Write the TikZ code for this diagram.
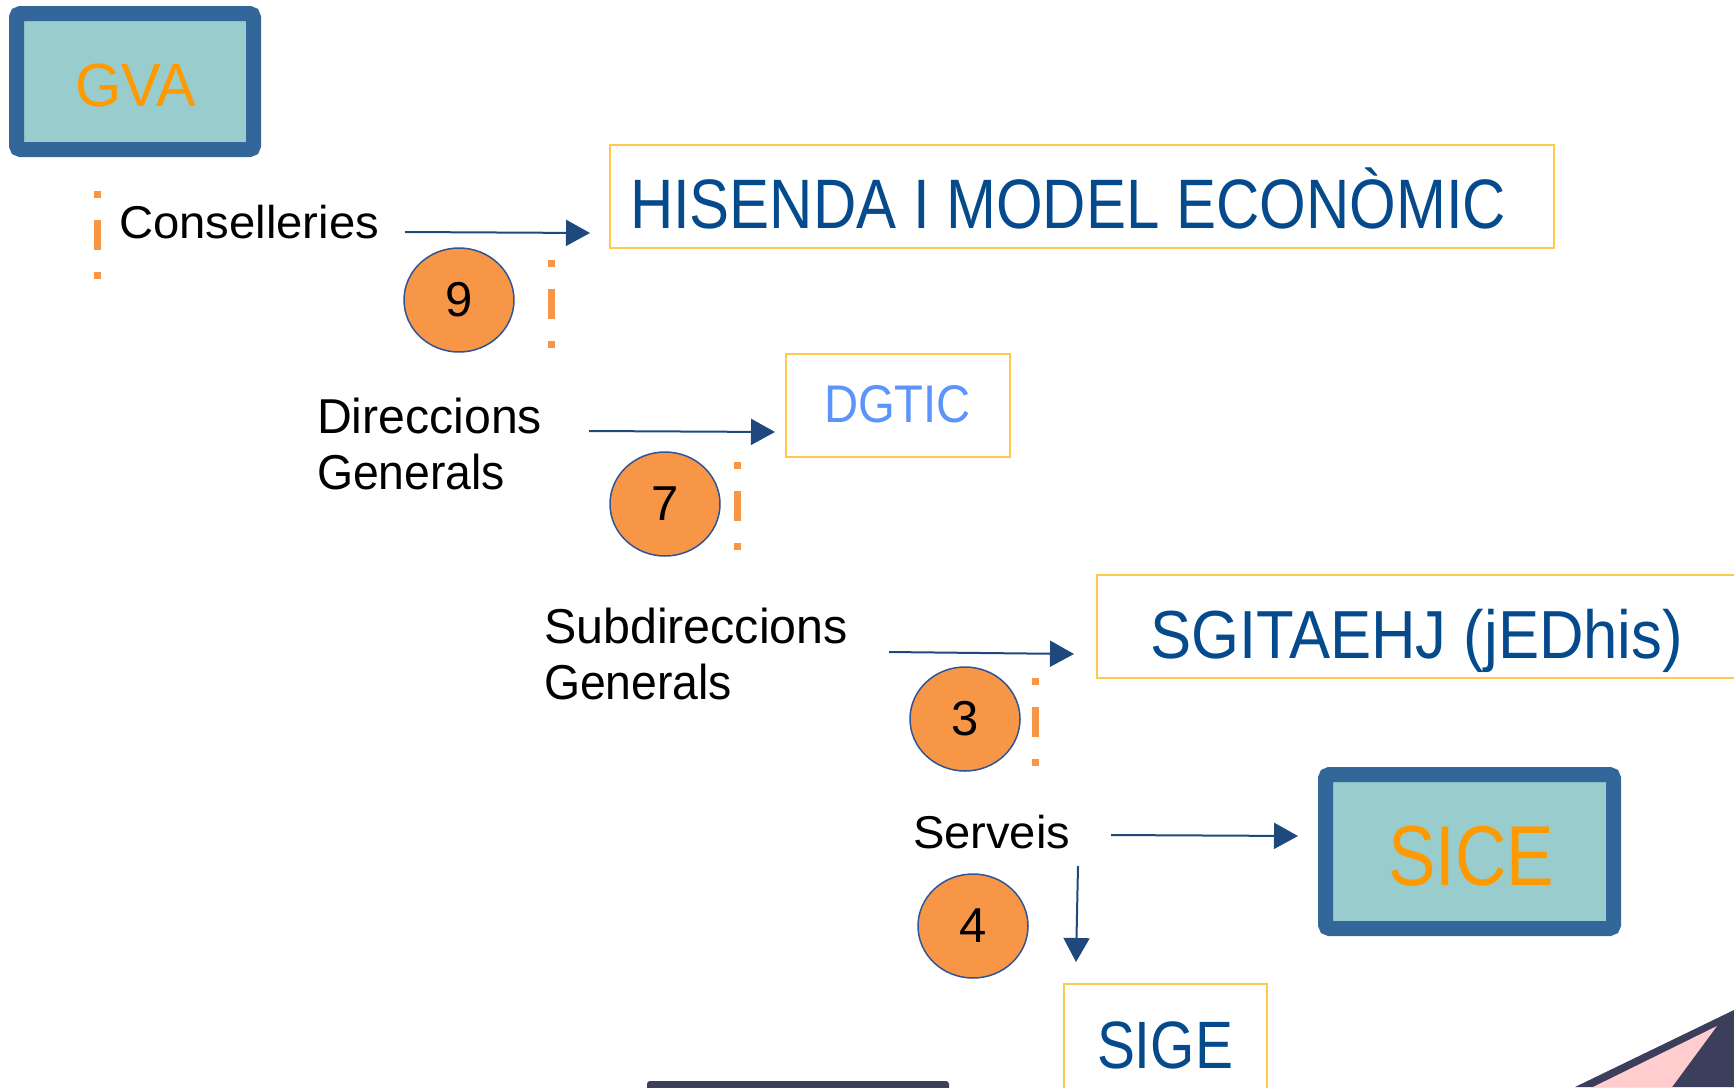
\documentclass[tikz,border=0pt]{standalone}
\usepackage{fontspec}
\setmainfont{Liberation Sans}
\usepackage{graphicx}
\usetikzlibrary{arrows.meta,shapes.geometric}
\definecolor{boxblue}{RGB}{51,102,153}
\definecolor{boxfill}{RGB}{153,204,204}
\definecolor{gvaorange}{RGB}{255,153,0}
\definecolor{circorange}{RGB}{247,150,70}
\definecolor{circline}{RGB}{47,85,151}
\definecolor{arrowblue}{RGB}{31,73,125}
\definecolor{titleblue}{RGB}{4,74,140}
\definecolor{lightblue}{RGB}{91,149,249}
\definecolor{boxyellow}{RGB}{255,201,77}
\definecolor{navy}{RGB}{59,63,92}
\definecolor{pinkish}{RGB}{255,205,205}
\newcommand\fw[2]{\resizebox{#1pt}{\height}{#2}}
\newcommand\fs[1]{\fontsize{#1}{#1}\selectfont}
\tikzset{
  txt/.style={anchor=base west, inner sep=0pt, outer sep=0pt},
  bigbox/.style={draw=boxblue, fill=boxfill, line width=15pt, rounded corners=4pt},
  ybox/.style={draw=boxyellow, line width=2pt, fill=white},
  numc/.style={ellipse, draw=circline, fill=circorange, line width=1.5pt, inner sep=0pt, minimum width=110pt, minimum height=104pt, font=\fs{49}},
  conn/.style={draw=arrowblue, line width=2pt, -{Triangle[length=24pt,width=26pt]}},
  odash/.style={draw=circorange, line width=7pt, dash pattern=on 7pt off 22pt on 30pt off 22pt on 7pt off 100pt}
}
\begin{document}
\begin{tikzpicture}[x=1pt,y=-1pt]
\useasboundingbox (0,0) rectangle (1734,1087);
\clip (0,0) rectangle (1734,1087);
% boxes
\draw[bigbox] (16.5,13.5) rectangle (253.5,149.5);
\node[txt, text=gvaorange, font=\fs{61}] (gva) at (75,106) {\fw{121}{GVA}};
\draw[bigbox] (1325.5,774.5) rectangle (1613.5,928.5);
\node[txt, text=gvaorange, font=\fs{85}] (sice) at (1388,885) {\fw{166}{SICE}};
\node[ybox, anchor=north west, minimum width=944pt, minimum height=103pt] (hisbox) at (609,144) {};
\node[txt, text=titleblue, font=\fs{70}] (his) at (630,228) {\fw{876}{HISENDA I MODEL ECONÒMIC}};
\node[ybox, anchor=north west, minimum width=224pt, minimum height=103pt] (dgbox) at (785,353) {};
\node[txt, text=lightblue, font=\fs{53}] (dg) at (824,422) {\fw{147}{DGTIC}};
\node[ybox, anchor=north west, minimum width=700pt, minimum height=103pt] (sgbox) at (1096,574) {};
\node[txt, text=titleblue, font=\fs{68}] (sg) at (1150,658) {\fw{533}{SGITAEHJ (jEDhis)}};
\node[ybox, anchor=north west, minimum width=203pt, minimum height=140pt] (sigebox) at (1063,983) {};
\node[txt, text=titleblue, font=\fs{67}] (sige) at (1097,1068) {\fw{136}{SIGE}};
% labels
\node[txt, font=\fs{46}] (cons) at (119,238) {\fw{260}{Conselleries}};
\node[txt, font=\fs{49}] (dir1) at (317,433) {\fw{225}{Direccions}};
\node[txt, font=\fs{49}] (dir2) at (317,489) {\fw{188}{Generals}};
\node[txt, font=\fs{49}] (sub1) at (544,643) {\fw{304}{Subdireccions}};
\node[txt, font=\fs{49}] (sub2) at (544,699) {\fw{188}{Generals}};
\node[txt, font=\fs{46}] (serv) at (913,848) {\fw{157}{Serveis}};
% circles
\node[numc] (c9) at (459,300) {9};
\node[numc] (c7) at (665,504) {7};
\node[numc] (c3) at (965,719) {3};
\node[numc] (c4) at (973,926) {4};
% dashes
\coordinate (d1a) at (97,191); \coordinate (d1b) at (97,282);
\coordinate (d2a) at (551,260); \coordinate (d2b) at (551,348);
\coordinate (d3a) at (737,462); \coordinate (d3b) at (737,550);
\coordinate (d4a) at (1035,678); \coordinate (d4b) at (1035,766);
\draw[odash] (d1a) -- (d1b);
\draw[odash] (d2a) -- (d2b);
\draw[odash] (d3a) -- (d3b);
\draw[odash] (d4a) -- (d4b);
% connectors
\coordinate (a1s) at (405,232); \coordinate (a1e) at (590,233);
\coordinate (a2s) at (589,431); \coordinate (a2e) at (775,432);
\coordinate (a3s) at (889,652); \coordinate (a3e) at (1074,654);
\coordinate (a4s) at (1111,835); \coordinate (a4e) at (1298,836);
\coordinate (a5s) at (1078,866); \coordinate (a5e) at (1076,962);
\draw[conn] (a1s) -- (a1e);
\draw[conn] (a2s) -- (a2e);
\draw[conn] (a3s) -- (a3e);
\draw[conn] (a4s) -- (a4e);
\draw[conn] (a5s) -- (a5e);
% decorations
\fill[navy, rounded corners=3pt] (647,1081) rectangle (949,1100);
\fill[navy] (1575,1087) -- (1734,1010) -- (1734,1087) -- cycle;
\fill[pinkish] (1593,1087) -- (1717,1026) -- (1672,1087) -- cycle;
\end{tikzpicture}
\end{document}
